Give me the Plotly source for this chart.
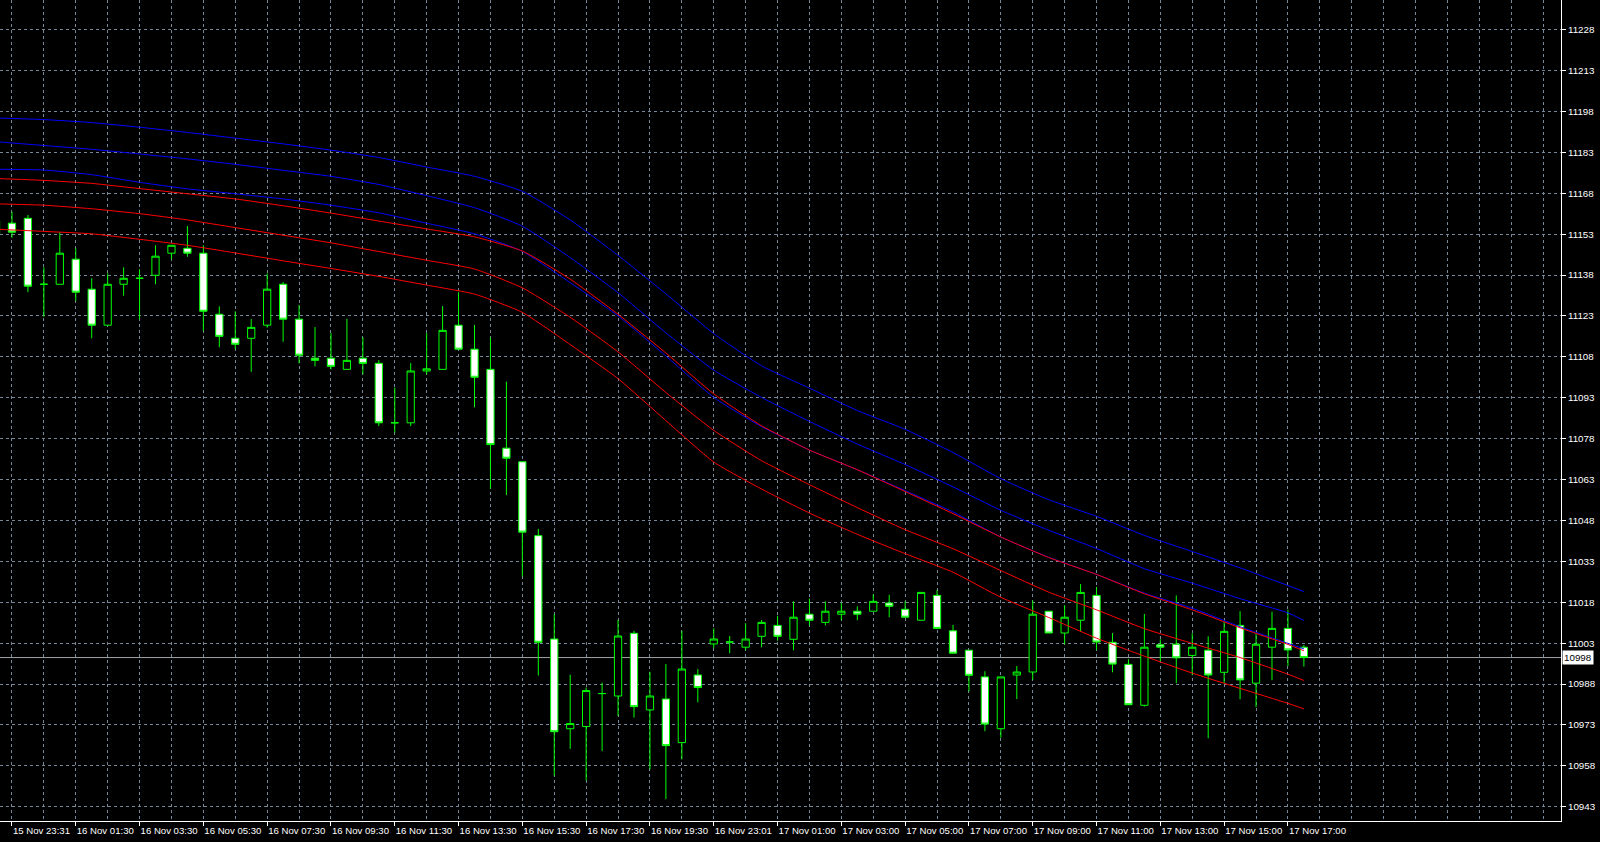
import plotly.graph_objects as go

# ---------------- data ----------------
bar_index = list(range(-1, 82))

opens = [11152.9, 11157.0, 11158.8, 11134.6, 11134.6, 11143.8, 11132.8, 11119.6, 11134.6, 11136.8,
         11137.9, 11146.0, 11147.8, 11146.0, 11123.6, 11114.8, 11114.8, 11119.6, 11134.6, 11121.8,
         11107.5, 11107.5, 11103.4, 11107.5, 11105.6, 11083.8, 11083.8, 11102.8, 11103.4, 11119.6,
         11110.8, 11103.4, 11074.5, 11069.5, 11042.4, 11004.5, 10971.6, 10972.4, 10984.5, 10983.6,
         11006.6, 10978.5, 10982.5, 10966.5, 10991.3, 11002.7, 11003.4, 11001.5, 11005.5, 11009.5,
         11004.4, 11013.6, 11010.6, 11013.6, 11014.7, 11014.7, 11017.7, 11015.4, 11011.4, 11020.5,
         11007.5, 11000.4, 10990.6, 10971.6, 10991.3, 10992.4, 11014.7, 11006.7, 11011.4, 11020.5,
         11003.3, 10995.2, 10980.2, 11002.4, 11002.6, 10998.5, 11000.4, 10992.3, 11009.5, 10988.3,
         11001.5, 11008.4, 11001.5]

highs = [11159.6, 11161.2, 11160.0, 11140.8, 11153.7, 11147.8, 11136.8, 11138.6, 11140.8, 11140.1,
         11148.9, 11148.9, 11156.0, 11148.9, 11126.5, 11124.7, 11121.8, 11138.6, 11135.4, 11127.0,
         11118.9, 11116.7, 11121.9, 11115.2, 11106.8, 11096.7, 11105.7, 11116.7, 11126.6, 11131.7,
         11119.7, 11115.2, 11098.9, 11069.5, 11044.9, 11013.7, 10991.4, 10986.7, 10988.5, 11011.5,
         11007.5, 10992.5, 10995.3, 11007.5, 10993.5, 11008.4, 11005.6, 11010.3, 11011.5, 11013.0,
         11018.3, 11019.3, 11018.3, 11017.7, 11016.5, 11020.9, 11020.7, 11018.3, 11021.6, 11022.5,
         11009.7, 11000.4, 10992.7, 10990.6, 10994.6, 11018.6, 11014.7, 11016.9, 11024.7, 11023.6,
         11006.7, 10997.1, 11013.7, 11004.4, 11020.5, 11006.6, 11005.5, 11010.9, 11014.7, 11006.6,
         11014.5, 11015.2, 11002.3]

lows = [11152.3, 11151.7, 11131.7, 11122.7, 11134.6, 11128.5, 11114.8, 11119.6, 11130.4, 11121.8,
        11134.6, 11143.8, 11144.7, 11117.4, 11111.5, 11110.8, 11102.5, 11118.7, 11113.5, 11105.6,
        11104.5, 11103.4, 11103.4, 11101.6, 11082.6, 11080.2, 11082.6, 11101.6, 11103.4, 11110.8,
        11089.5, 11059.6, 11057.3, 11027.4, 10991.1, 10954.4, 10964.2, 10952.6, 10963.4, 10976.3,
        10975.7, 10956.7, 10945.8, 10960.4, 10981.3, 11001.1, 10999.3, 11000.4, 11001.5, 11003.9,
        11000.4, 11009.5, 11009.5, 11011.4, 11011.4, 11014.7, 11012.5, 11012.5, 11011.4, 11008.4,
        10999.3, 10985.3, 10970.7, 10968.3, 10982.5, 10989.5, 11006.7, 11002.6, 11007.3, 11000.5,
        10992.3, 10980.4, 10979.7, 10996.3, 10988.3, 10991.2, 10968.1, 10988.3, 10982.4, 10979.5,
        10989.4, 10994.6, 10994.4]

closes = [11157.8, 11153.7, 11133.9, 11134.6, 11146.0, 11131.7, 11119.6, 11134.6, 11136.8, 11136.8,
          11144.9, 11148.9, 11146.0, 11124.7, 11115.5, 11112.6, 11118.8, 11132.8, 11121.8, 11108.6,
          11106.7, 11104.5, 11106.7, 11105.6, 11083.8, 11083.8, 11102.8, 11103.6, 11117.7, 11110.8,
          11100.5, 11075.8, 11070.8, 11043.7, 11003.3, 10970.5, 10973.5, 10985.6, 10984.5, 11005.6,
          10979.7, 10983.6, 10965.4, 10993.5, 10986.7, 11004.5, 11003.4, 11004.5, 11010.6, 11005.5,
          11012.5, 11011.4, 11014.7, 11014.7, 11013.6, 11018.3, 11016.5, 11012.5, 11021.6, 11008.4,
          10999.3, 10991.2, 10973.3, 10990.6, 10992.4, 11013.6, 11006.7, 11012.5, 11021.6, 11003.4,
          10995.3, 10980.4, 11001.5, 11001.5, 10997.6, 11001.5, 10991.3, 11007.3, 10989.5, 11002.6,
          11008.4, 11000.5, 10997.7]

ma_bars = [-1, 2, 5, 8, 11, 14, 17, 20, 23, 26, 29, 32, 35, 38, 41, 44, 47, 50, 53, 56,
           59, 62, 65, 68, 71, 74, 77, 80, 81]

ma_blue_1 = [11195.6, 11195.0, 11193.9, 11192.2, 11190.3, 11188.2, 11186.1, 11183.8, 11181.1, 11177.6,
             11174.2, 11168.7, 11158.2, 11145.2, 11131.1, 11116.5, 11104.7, 11096.5, 11088.3, 11081.4,
             11072.9, 11063.3, 11055.6, 11049.5, 11042.5, 11036.6, 11030.6, 11024.1, 11021.9]
ma_blue_2 = [11186.9, 11185.5, 11184.1, 11182.4, 11180.6, 11178.6, 11176.4, 11174.2, 11171.2, 11167.1,
             11162.7, 11155.9, 11144.4, 11131.5, 11116.8, 11103.1, 11093.1, 11084.3, 11076.0, 11068.5,
             11060.3, 11051.7, 11044.4, 11037.7, 11030.3, 11025.0, 11019.3, 11014.1, 11011.3]
ma_blue_3 = [11176.8, 11176.5, 11174.8, 11172.0, 11169.6, 11167.8, 11165.9, 11163.6, 11160.8, 11157.0,
             11153.1, 11146.7, 11135.2, 11123.0, 11108.3, 11093.1, 11082.4, 11073.8, 11066.6, 11058.9,
             11051.1, 11041.9, 11034.5, 11028.2, 11021.3, 11015.8, 11009.0, 11002.9, 11000.9]
ma_red_1 = [11173.4, 11172.7, 11171.6, 11169.7, 11167.8, 11165.9, 11163.4, 11160.7, 11157.8, 11154.9,
            11152.0, 11146.8, 11136.5, 11123.6, 11109.4, 11094.4, 11082.7, 11073.8, 11066.6, 11058.6,
            11050.5, 11041.9, 11034.4, 11028.2, 11021.1, 11015.2, 11008.6, 11002.5, 11000.2]
ma_red_2 = [11164.1, 11163.6, 11162.3, 11160.5, 11158.2, 11155.4, 11152.6, 11149.8, 11146.6, 11143.4,
            11140.2, 11133.3, 11122.5, 11109.8, 11094.9, 11081.0, 11069.9, 11061.1, 11052.7, 11044.6,
            11037.6, 11029.6, 11021.7, 11015.2, 11008.3, 11002.9, 10997.7, 10991.6, 10989.3]
ma_red_3 = [11154.8, 11154.0, 11153.1, 11151.1, 11148.9, 11146.1, 11143.2, 11140.4, 11137.5, 11134.3,
            11131.0, 11124.3, 11112.5, 11100.0, 11084.6, 11069.4, 11059.5, 11050.7, 11042.9, 11035.8,
            11029.0, 11019.8, 11012.4, 11004.8, 10998.2, 10992.0, 10986.4, 10980.9, 10978.9]

tick_bars = list(range(0, 81, 4))
tick_labels = ["15 Nov 23:31", "16 Nov 01:30", "16 Nov 03:30", "16 Nov 05:30", "16 Nov 07:30",
               "16 Nov 09:30", "16 Nov 11:30", "16 Nov 13:30", "16 Nov 15:30", "16 Nov 17:30",
               "16 Nov 19:30", "16 Nov 23:01", "17 Nov 01:00", "17 Nov 03:00", "17 Nov 05:00",
               "17 Nov 07:00", "17 Nov 09:00", "17 Nov 11:00", "17 Nov 13:00", "17 Nov 15:00",
               "17 Nov 17:00"]
price_ticks = list(range(10943, 11229, 15))
current_price = 10997.7
current_label = "10998"

# ---------------- figure ----------------
GRID = "#778899"
CANDLE = "#00ff00"
FONT = "Liberation Sans"

fig = go.Figure()
fig.add_trace(go.Candlestick(
    x=bar_index, open=opens, high=highs, low=lows, close=closes,
    increasing=dict(line=dict(color=CANDLE, width=1), fillcolor="#000000"),
    decreasing=dict(line=dict(color=CANDLE, width=1), fillcolor="#ffffff"),
    whiskerwidth=0, hoverinfo="skip", showlegend=False,
))

for series, color in [(ma_red_3, "#ff0000"), (ma_red_2, "#ff0000"),
                      (ma_blue_1, "#0000ff"), (ma_blue_2, "#0000ff"),
                      (ma_blue_3, "#0000ff"), (ma_red_1, "#ff0000")]:
    fig.add_trace(go.Scatter(x=ma_bars, y=series, mode="lines",
                             line=dict(color=color, width=1, shape="spline", smoothing=0.5),
                             hoverinfo="skip", showlegend=False))

fig.add_shape(type="line", xref="paper", x0=0, x1=1, yref="y", y0=current_price, y1=current_price,
              line=dict(color="#a0a4a8", width=1), layer="below")
fig.add_annotation(xref="paper", x=1, xanchor="left", xshift=1, yref="y", y=current_price,
                   text=current_label, showarrow=False, bgcolor="#ffffff", borderpad=1,
                   font=dict(family=FONT, size=9.8, color="#000000"))

fig.update_layout(
    width=1600, height=842,
    margin=dict(l=0, r=39, t=0, b=21, autoexpand=False),
    paper_bgcolor="#000000", plot_bgcolor="#000000",
    showlegend=False, boxgap=0.35,
    font=dict(family=FONT, size=9.8, color="#ffffff"),
    xaxis=dict(
        range=[-0.75, 97.12], tickmode="array", tickvals=tick_bars, ticktext=tick_labels,
        ticks="outside", ticklen=4, tickcolor="#ffffff", ticklabelposition="outside right",
        tickangle=0,
        tickfont=dict(family=FONT, size=9.6, color="#ffffff"),
        showline=True, linecolor="#ffffff", linewidth=1,
        showgrid=True, gridcolor=GRID, griddash="3px,3px", gridwidth=1,
        minor=dict(tickmode="linear", tick0=0, dtick=2, showgrid=True, gridcolor=GRID,
                   griddash="3px,3px", gridwidth=1, ticks=""),
        rangeslider=dict(visible=False), zeroline=False, fixedrange=True,
    ),
    yaxis=dict(
        side="right", range=[10937.76, 11238.86], tickmode="array", tickvals=price_ticks,
        ticktext=[str(v) for v in price_ticks],
        ticks="outside", ticklen=4, tickcolor="#ffffff",
        tickfont=dict(family=FONT, size=9.8, color="#ffffff"),
        showline=True, linecolor="#ffffff", linewidth=1,
        showgrid=True, gridcolor=GRID, griddash="3px,3px", gridwidth=1,
        zeroline=False, fixedrange=True,
    ),
)

fig.write_html("out.html", config={"displayModeBar": False},
               post_script="document.body.style.margin='0';document.body.style.background='#000';")
